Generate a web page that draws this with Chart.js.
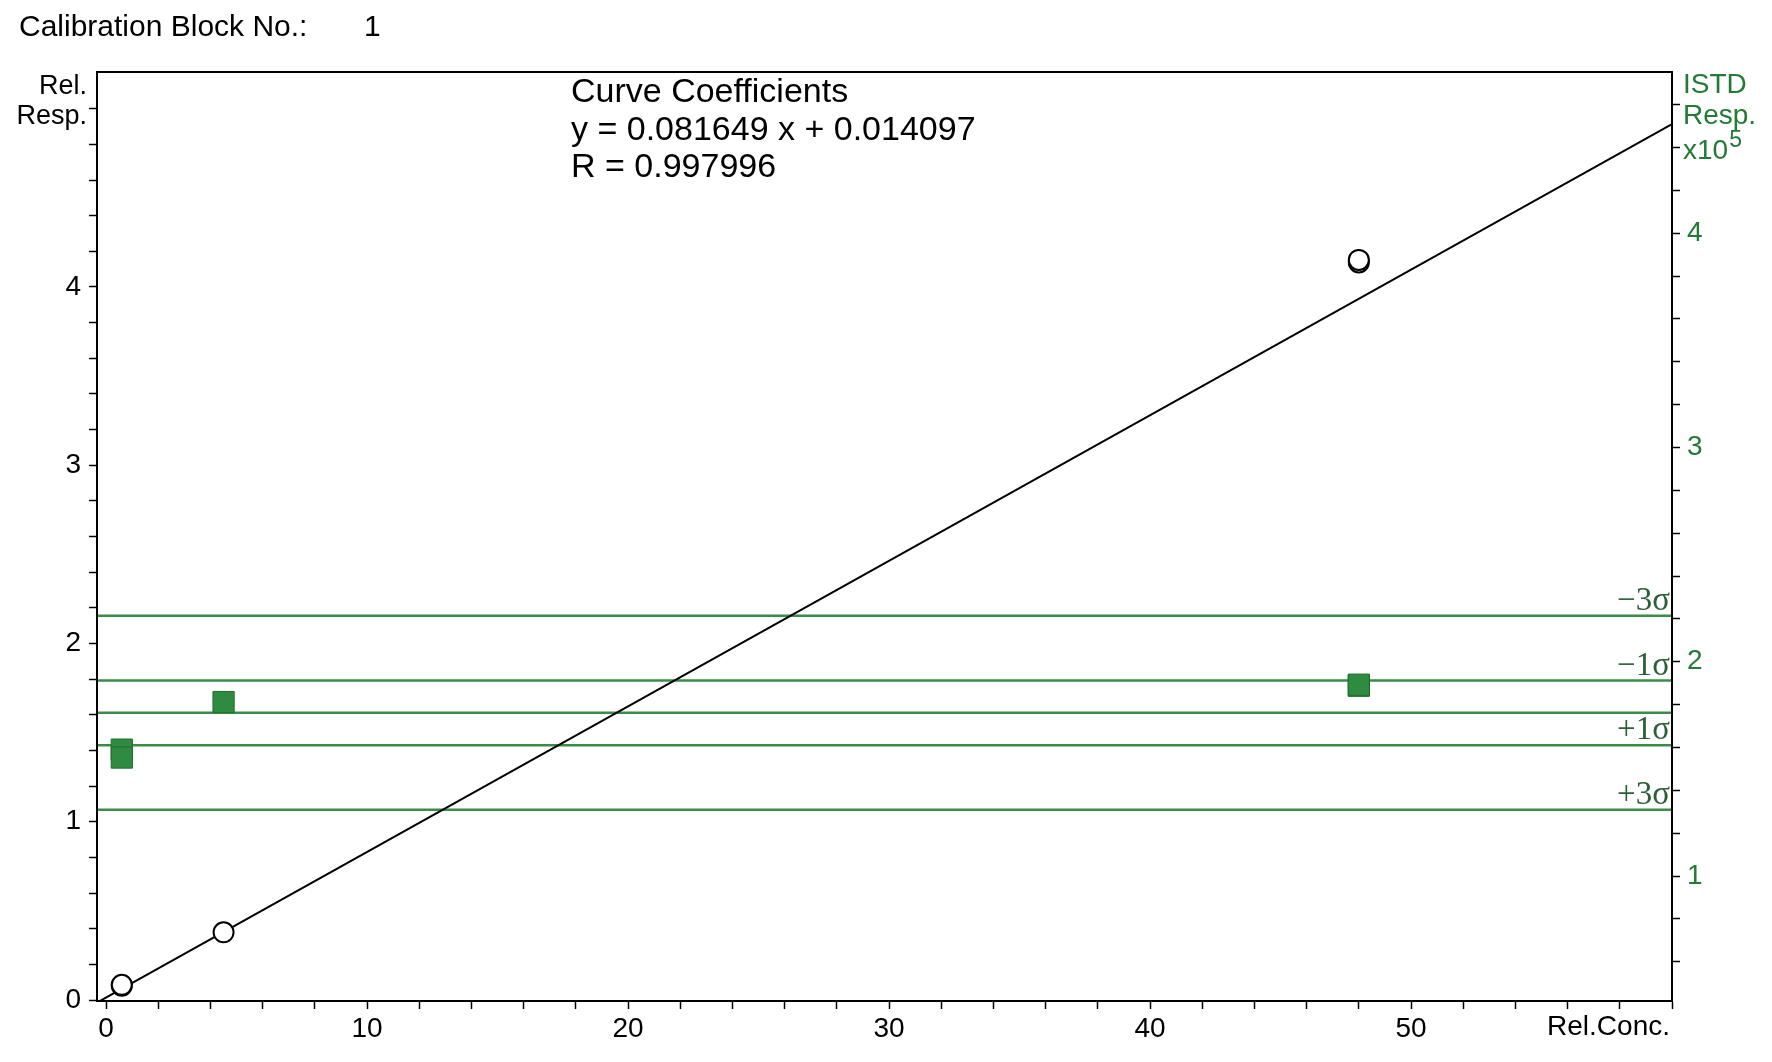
<!DOCTYPE html>
<html>
<head>
<meta charset="utf-8">
<script src="https://cdn.jsdelivr.net/npm/chart.js@4.4.1/dist/chart.umd.min.js"></script>
<style>
  html, body { margin: 0; padding: 0; background: #fff; }
  #wrap { width: 1772px; height: 1062px; position: relative; }
</style>
</head>
<body>
<div id="wrap"><canvas id="calChart" width="1772" height="1062"></canvas></div>
<script>
// calibration points (Rel.Conc. / Rel.Resp.)
var relConc = [0.6, 0.6, 4.5, 48, 48];
var relResp = [0.08, 0.085, 0.38, 4.138, 4.152];
// ISTD response x10^5, same injections
var istdResp = [1.59, 1.553, 1.812, 1.888, 1.893];

// curve coefficients
var fitSlope = 0.081649;
var fitIntercept = 0.014097;
var fitR = 0.997996;

// ISTD control lines
var sigmaLabels = ['\u22123\u03c3', '\u22121\u03c3', '', '+1\u03c3', '+3\u03c3'];
var sigmaValues = [2.215, 1.912, 1.762, 1.610, 1.309];

// tick labels
var xTickLabels = [0, 10, 20, 30, 40, 50];
var yTickLabels = [0, 1, 2, 3, 4];
var y2TickLabels = [1, 2, 3, 4];

// axis ranges
var xMin = -0.35, xMax = 60;
var yMin = -0.0056, yMax = 5.206;
var y2Min = 0.417, y2Max = 4.752;

var GREEN = '#2e8b3f';
var GREEN_TXT = '#237a36';
var SANS = '"Liberation Sans", Arial, sans-serif';

function minorTicks(from, to, step) {
    var out = [];
    for (var i = Math.round(from / step); i <= Math.round(to / step); i++) {
        out.push({ value: Math.round(i * step * 100) / 100 });
    }
    return out;
}

var fitLine = [xMin, xMax].map(function (x) {
    return { x: x, y: fitSlope * x + fitIntercept };
});

var sigmaSets = sigmaValues.map(function (v) {
    return {
        type: 'line',
        data: [{ x: xMin, y: v }, { x: xMax, y: v }],
        yAxisID: 'y2',
        borderColor: '#3a8c48',
        borderWidth: 2.5,
        pointRadius: 0,
        order: 3
    };
});

// texts around the frame
var textPlugin = {
    id: 'texts',
    afterDraw: function (chart) {
        var ctx = chart.ctx;
        var a = chart.chartArea;
        var y2 = chart.scales.y2;
        ctx.save();
        // frame
        ctx.strokeStyle = '#000';
        ctx.lineWidth = 2;
        ctx.strokeRect(a.left, a.top, a.right - a.left, a.bottom - a.top);

        ctx.fillStyle = '#000';
        ctx.textBaseline = 'middle';
        ctx.textAlign = 'left';
        ctx.font = '30px ' + SANS;
        ctx.fillText('Calibration Block No.:', 19, 28);
        ctx.fillText('1', 364, 28);

        ctx.font = '34px ' + SANS;
        ctx.fillText('Curve Coefficients', 571, 93);
        ctx.fillText('y = ' + fitSlope.toFixed(6) + ' x + ' + fitIntercept.toFixed(6), 571, 131);
        ctx.fillText('R = ' + fitR.toFixed(6), 571, 168);

        ctx.font = '27px ' + SANS;
        ctx.textAlign = 'right';
        ctx.fillText('Rel.', 87, 87);
        ctx.fillText('Resp.', 87, 117);
        ctx.font = '28px ' + SANS;
        ctx.fillText('Rel.Conc.', a.right - 2, 1027);

        ctx.fillStyle = GREEN_TXT;
        ctx.textAlign = 'left';
        ctx.font = '28px ' + SANS;
        ctx.fillText('ISTD', 1683, 85);
        ctx.fillText('Resp.', 1683, 116);
        ctx.fillText('x10', 1683, 151);
        var w = ctx.measureText('x10').width;
        ctx.font = '23px ' + SANS;
        ctx.fillText('5', 1683 + w + 1, 141);

        // sigma labels
        ctx.font = '33px "Liberation Serif", "Times New Roman", serif';
        ctx.fillStyle = '#2c5f37';
        ctx.textAlign = 'right';
        ctx.textBaseline = 'alphabetic';
        sigmaValues.forEach(function (v, i) {
            if (sigmaLabels[i]) {
                ctx.fillText(sigmaLabels[i], a.right - 2, y2.getPixelForValue(v) - 6);
            }
        });
        ctx.restore();
    }
};

var tickGrid = {
    drawOnChartArea: false,
    drawTicks: true,
    tickLength: 8,
    tickColor: '#000',
    tickWidth: 1.5
};

var ctx = document.getElementById('calChart');
var chart = new Chart(ctx, {
    type: 'scatter',
    data: {
        datasets: [{
            label: 'calibration',
            data: relConc.map(function (x, i) { return { x: x, y: relResp[i] }; }),
            yAxisID: 'y',
            pointStyle: 'circle',
            pointRadius: 10,
            borderWidth: 2,
            borderColor: '#000',
            backgroundColor: '#fff',
            order: 0
        }, {
            label: 'ISTD',
            data: relConc.map(function (x, i) { return { x: x, y: istdResp[i] }; }),
            yAxisID: 'y2',
            pointStyle: 'rect',
            pointRadius: 15,
            borderWidth: 1,
            borderColor: '#1f6d2e',
            backgroundColor: GREEN,
            order: 1
        }, {
            type: 'line',
            label: 'fit',
            data: fitLine,
            yAxisID: 'y',
            borderColor: '#000',
            borderWidth: 2,
            pointRadius: 0,
            order: 2
        }].concat(sigmaSets)
    },
    options: {
        responsive: false,
        animation: false,
        devicePixelRatio: 1,
        events: [],
        layout: { padding: { top: 72, left: 0, right: 0, bottom: 0 } },
        plugins: { legend: { display: false }, tooltip: { enabled: false } },
        scales: {
            x: {
                type: 'linear', position: 'bottom', bounds: 'data',
                min: xMin, max: xMax,
                grid: tickGrid,
                border: { display: true, color: '#000', width: 2 },
                afterBuildTicks: function (s) { s.ticks = minorTicks(0, 60, 2); },
                afterFit: function (s) { s.height = 61; },
                ticks: {
                    autoSkip: false, maxRotation: 0, padding: 3, color: '#000',
                    font: { family: SANS, size: 28 },
                    callback: function (v) { return xTickLabels.indexOf(v) >= 0 ? String(v) : ''; }
                }
            },
            y: {
                type: 'linear', position: 'left', bounds: 'data',
                min: yMin, max: yMax,
                grid: tickGrid,
                border: { display: true, color: '#000', width: 2 },
                afterBuildTicks: function (s) { s.ticks = minorTicks(0, 5, 0.2); },
                afterFit: function (s) { s.width = 97; },
                ticks: {
                    autoSkip: false, padding: 8, color: '#000',
                    font: { family: SANS, size: 28 },
                    callback: function (v) { return yTickLabels.indexOf(v) >= 0 ? String(v) : ''; }
                }
            },
            y2: {
                type: 'linear', position: 'right', bounds: 'data',
                min: y2Min, max: y2Max,
                grid: tickGrid,
                border: { display: true, color: '#000', width: 2 },
                afterBuildTicks: function (s) { s.ticks = minorTicks(0.6, 4.6, 0.2); },
                afterFit: function (s) { s.width = 100; },
                ticks: {
                    autoSkip: false, padding: 7, color: GREEN_TXT,
                    font: { family: SANS, size: 28 },
                    callback: function (v) { return y2TickLabels.indexOf(v) >= 0 ? String(v) : ''; }
                }
            }
        }
    },
    plugins: [textPlugin]
});
</script>
</body>
</html>
